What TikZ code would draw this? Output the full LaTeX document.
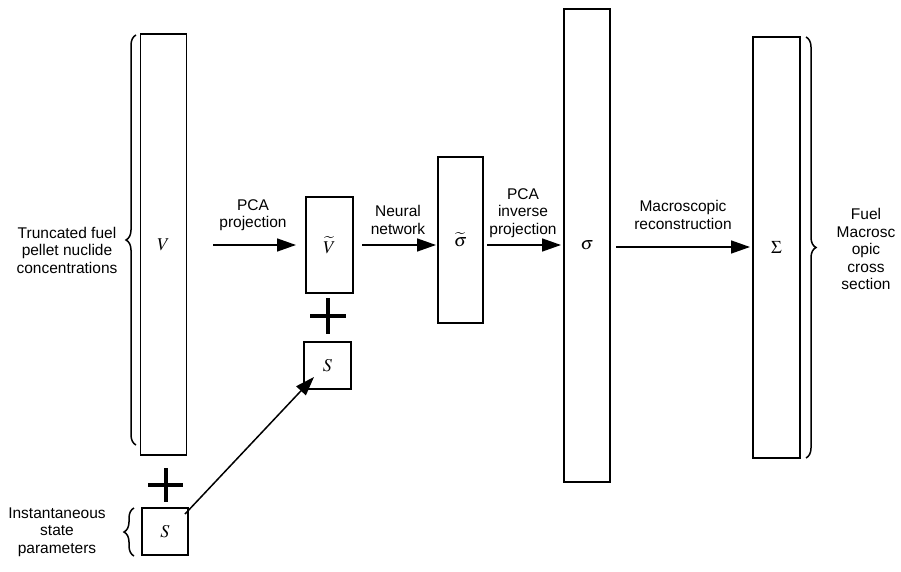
\documentclass[tikz,border=0pt]{standalone}
\usepackage{mathptmx}
\usepackage{fontspec}
\setmainfont{Liberation Sans}
\usetikzlibrary{arrows.meta,decorations.pathreplacing}
\begin{document}
\begin{tikzpicture}[x=1pt,y=-1pt,
  box/.style={draw,line width=1.5pt,inner sep=0pt,font=\fontsize{18}{21}\selectfont},
  lbl/.style={align=center,font=\fontsize{15.5}{17.5}\selectfont,inner sep=0pt},
  arr/.style={line width=1.5pt,-{Triangle[length=19pt,width=13pt]}},
  plus/.style={line width=4pt},
  brc/.style={line width=1.5pt,decorate,decoration={brace,amplitude=10pt}}]
\useasboundingbox (0,0) rectangle (901,572);
% boxes
\node[box,minimum width=46pt,minimum height=421pt] (V) at (163.5,244.5) {$V$};
\node[box,minimum width=46pt,minimum height=47pt] (S1) at (165,531.5) {$S$};
\node[box,minimum width=47pt,minimum height=96pt] (Vt) at (329.5,245) {$\widetilde{V}$};
\node[box,minimum width=47pt,minimum height=47pt] (S2) at (327.5,365.5) {$S$};
\node[box,minimum width=45pt,minimum height=166pt] (st) at (460.5,240) {$\widetilde{\sigma}$};
\node[box,minimum width=46pt,minimum height=473pt] (sg) at (587,245.5) {$\sigma$};
\node[box,minimum width=47pt,minimum height=421pt] (Sg) at (776.5,247.5) {$\Sigma$};
% coordinates
\coordinate (a1s) at (213,245);
\coordinate (a1e) at (296,245);
\coordinate (a2s) at (362,245);
\coordinate (a2e) at (436,245);
\coordinate (a3s) at (487,245);
\coordinate (a3e) at (561,245);
\coordinate (a4s) at (616,247);
\coordinate (a4e) at (750,247);
\coordinate (d1) at (185,514);
\coordinate (d2) at (314,377);
% arrows
\draw[arr] (a1s) -- (a1e);
\draw[arr] (a2s) -- (a2e);
\draw[arr] (a3s) -- (a3e);
\draw[arr] (a4s) -- (a4e);
\draw[arr] (d1) -- (d2);
% labels
\node[lbl] (l1) at (253,215) {PCA\\projection};
\node[lbl] (l2) at (398,220) {Neural\\network};
\node[lbl] (l3) at (523,213) {PCA\\inverse\\projection};
\node[lbl] (l4) at (683,215) {Macroscopic\\reconstruction};
\node[lbl] (t1) at (67,250) {Truncated fuel\\pellet nuclide\\concentrations};
\node[lbl] (t2) at (57,532) {Instantaneous\\state\\parameters};
\node[lbl] (t3) at (866,249) {Fuel\\Macrosc\\opic\\cross\\section};
% plus signs
\draw[plus] (148,485) -- (183,485);
\draw[plus] (165.5,468) -- (165.5,502);
\draw[plus] (310,316) -- (346,316);
\draw[plus] (328,298) -- (328,334);
% braces
\draw[brc] (136,445) -- (136,35);
\draw[brc] (134,556) -- (134,508);
\draw[brc] (806,37) -- (806,458);
\end{tikzpicture}
\end{document}
